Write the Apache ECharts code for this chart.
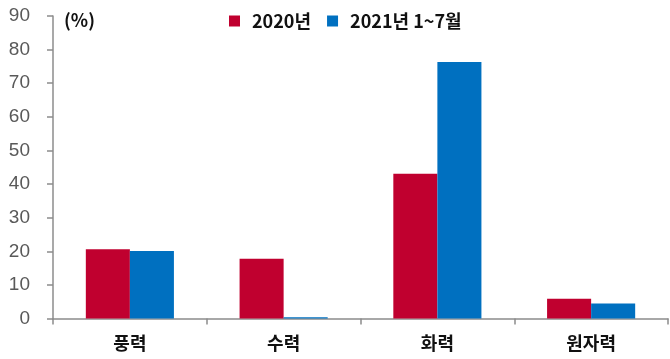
<!DOCTYPE html>
<html><head><meta charset="utf-8">
<script src="https://cdn.jsdelivr.net/npm/echarts@6/dist/echarts.min.js"></script>
<style>html,body{margin:0;padding:0;background:#fff}#c{width:670px;height:359px}</style>
</head><body><div id="c"></div>
<script>
const categories = ['풍력', '수력', '화력', '원자력'];
const series2020 = [20.6, 17.8, 43.1, 5.9];
const series2021 = [20.1, 0.4, 76.3, 4.5];
const seriesNames = ['2020년', '2021년 1~7월'];
const yMin = 0, yMax = 90, yStep = 10;

const font = '"Noto Sans CJK KR", "Noto Sans", sans-serif';
const chart = echarts.init(document.getElementById('c'));
chart.setOption({
  animation: false,
  title: { text: '(%)', left: 64, top: 11, padding: 0, textStyle: { fontFamily: font, fontSize: 18, fontWeight: 'bold', color: '#111' } },
  legend: {
    left: 229, top: 12, padding: 0, itemWidth: 11, itemHeight: 11, itemGap: 16,
    icon: 'rect',
    textStyle: { fontFamily: font, fontSize: 18, fontWeight: 'bold', color: '#111', padding: [0, 0, 0, 7] },
    data: seriesNames
  },
  grid: { left: 53, right: 2, top: 16, bottom: 40.5 },
  xAxis: {
    type: 'category', data: categories,
    axisLine: { lineStyle: { color: '#8c8c8c', width: 1.5 } },
    axisTick: { show: true, length: 6, lineStyle: { color: '#8c8c8c', width: 1.5 } },
    axisLabel: { fontFamily: font, fontSize: 18, fontWeight: 'bold', color: '#111', margin: 16 }
  },
  yAxis: {
    type: 'value', min: yMin, max: yMax, interval: yStep,
    axisLine: { show: true, lineStyle: { color: '#8c8c8c', width: 1.5 } },
    axisTick: { show: true, length: 6, lineStyle: { color: '#8c8c8c', width: 1.5 } },
    splitLine: { show: false },
    axisLabel: { fontFamily: '"Liberation Sans", Arial, sans-serif', fontSize: 19, color: '#595959', margin: 23 }
  },
  series: [
    { name: seriesNames[0], type: 'bar', data: series2020, barGap: '0%', barCategoryGap: '42.7%', itemStyle: { color: '#C0002F' } },
    { name: seriesNames[1], type: 'bar', data: series2021, itemStyle: { color: '#0070C0' } }
  ]
});
</script></body></html>
